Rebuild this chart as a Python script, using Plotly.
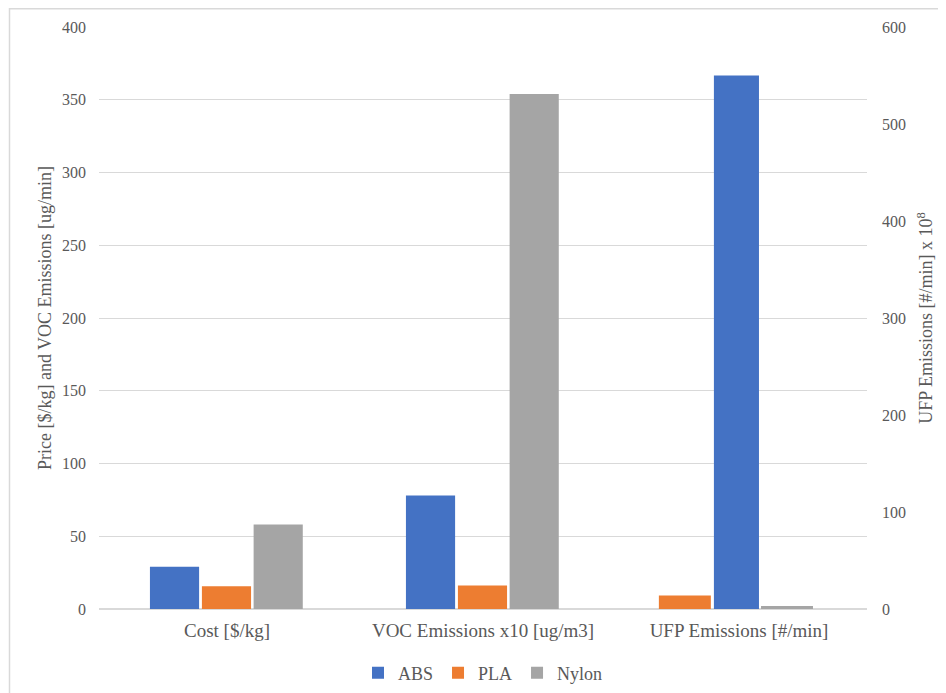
import plotly.graph_objects as go

categories = ["Cost [$/kg]", "VOC Emissions x10 [ug/m3]", "UFP Emissions [#/min]"]
series = ["ABS", "PLA", "Nylon"]
colors = {"ABS": "#4472C4", "PLA": "#ED7D31", "Nylon": "#A5A5A5"}

# primary axis values (Cost, VOC)
abs_primary = [29, 78]
pla_primary = [15.7, 16.2]
nylon_primary = [58, 354]
# secondary axis values (UFP, x10^8 #/min)
abs_ufp = [550]
pla_ufp = [14]
nylon_ufp = [3]

left_ticks = [0, 50, 100, 150, 200, 250, 300, 350, 400]
right_ticks = [0, 100, 200, 300, 400, 500, 600]

primary = {"ABS": abs_primary, "PLA": pla_primary, "Nylon": nylon_primary}
secondary = {"ABS": abs_ufp, "PLA": pla_ufp, "Nylon": nylon_ufp}

# bar placement (style): offsets / widths in category units
prim_offset = {"ABS": -0.301, "PLA": -0.098, "Nylon": 0.104}
prim_width = 0.192
sec_offset = {"ABS": -0.098, "PLA": -0.313, "Nylon": 0.086}
sec_width = {"ABS": 0.176, "PLA": 0.203, "Nylon": 0.203}

fig = go.Figure()
for s in series:
    fig.add_trace(go.Bar(
        x=categories[:2], y=primary[s], name=s, legendgroup=s,
        marker=dict(color=colors[s], line=dict(width=0)),
        offset=prim_offset[s], width=prim_width, yaxis="y",
    ))
for s in series:
    fig.add_trace(go.Bar(
        x=categories[2:], y=secondary[s], name=s, legendgroup=s, showlegend=False,
        marker=dict(color=colors[s], line=dict(width=0)),
        offset=sec_offset[s], width=sec_width[s], yaxis="y2",
    ))

font_family = "'Liberation Serif', Tinos, 'Times New Roman', 'DejaVu Serif', serif"
gray = "#595959"
grid = "#D9D9D9"

# page body has an 8px margin; compensate so the plot lands where the reference has it
W, H = 938, 685
ml, mr, mt, mb = 91, 79, 19, 84
pw = W - ml - mr
ph = H - mt - mb

fig.update_layout(
    width=W, height=H,
    margin=dict(l=ml, r=mr, t=mt, b=mb, autoexpand=False),
    paper_bgcolor="white", plot_bgcolor="white",
    font=dict(family=font_family, size=16, color=gray),
    barmode="group",
    showlegend=True,
    legend=dict(orientation="h", x=0.5, xanchor="center", y=-64 / ph, yanchor="middle",
                font=dict(size=18, color=gray, family=font_family), traceorder="normal",
                itemwidth=30),
    xaxis=dict(type="category", categoryorder="array", categoryarray=categories,
               showgrid=False, showline=False, ticks="", automargin=False,
               ticklabelstandoff=8,
               tickfont=dict(size=19, color=gray, family=font_family)),
    yaxis=dict(range=[0, 400], tickvals=left_ticks, showgrid=True, gridcolor=grid, gridwidth=1,
               zeroline=True, zerolinecolor=grid, zerolinewidth=1.5, showline=False,
               automargin=False, ticklabelstandoff=12,
               tickfont=dict(size=16, color=gray, family=font_family), ticks="",
               title=dict(text="Price [$/kg] and VOC Emissions [ug/min]",
                          font=dict(size=18, color=gray, family=font_family), standoff=5)),
    yaxis2=dict(range=[0, 600], tickvals=right_ticks, overlaying="y", side="right",
                showgrid=False, zeroline=False, showline=False, ticks="", automargin=False,
                ticklabelstandoff=14,
                tickfont=dict(size=16, color=gray, family=font_family),
                title=dict(text="UFP Emissions [#/min] x 10<sup>8</sup>",
                           font=dict(size=18, color=gray, family=font_family), standoff=14)),
    shapes=[dict(type="rect", xref="paper", yref="paper",
                 x0=(1.5 - ml) / pw, x1=1.3, y0=-0.3, y1=1 + (mt - 0.75) / ph,
                 line=dict(color=grid, width=1.5), fillcolor="rgba(0,0,0,0)", layer="below")],
)

fig.write_html("out.html")
